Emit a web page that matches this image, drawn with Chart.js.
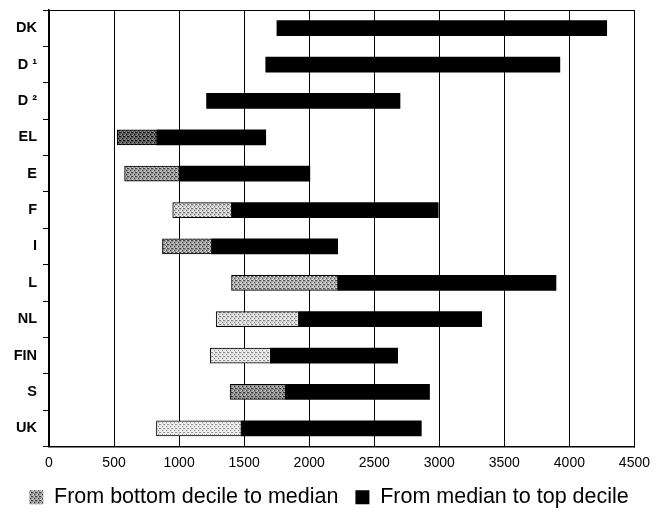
<!DOCTYPE html>
<html>
<head>
<meta charset="utf-8">
<script src="https://cdn.jsdelivr.net/npm/chart.js@4/dist/chart.umd.min.js"></script>
<style>
html,body{margin:0;padding:0;background:#fff;}
#wrap{width:658px;height:521px;position:relative;}
</style>
</head>
<body>
<div id="wrap"><canvas id="c"></canvas></div>
<script>
// Data
const categories = ['DK', 'D ¹', 'D ²', 'EL', 'E', 'F', 'I', 'L', 'NL', 'FIN', 'S', 'UK'];
const bottomDecile = [1752, 1666, 1211, 525, 581, 951, 872, 1403, 1285, 1239, 1392, 826];
const median       = [null, null, null, 832, 1002, 1405, 1252, 2221, 1920, 1704, 1818, 1479];
const topDecile    = [4287, 3927, 2698, 1666, 2005, 2992, 2219, 3897, 3326, 2680, 2925, 2862];
const xTicks = [0, 500, 1000, 1500, 2000, 2500, 3000, 3500, 4000, 4500];
const seriesNames = ['From bottom decile to median', 'From median to top decile'];

// Styles
const shades = [null, null, null, 90, 150, 200, 155, 170, 215, 225, 140, 232];

function makePattern(g) {
  const c = document.createElement('canvas');
  c.width = 4; c.height = 4;
  const x = c.getContext('2d');
  x.fillStyle = `rgb(${g},${g},${g})`;
  x.fillRect(0, 0, 4, 4);
  const d = Math.max(0, g - 90), l = Math.min(255, g + 60);
  x.fillStyle = `rgb(${d},${d},${d})`;
  x.fillRect(0, 0, 1, 1); x.fillRect(2, 2, 1, 1); x.fillRect(3, 0, 1, 1);
  x.fillStyle = `rgb(${l},${l},${l})`;
  x.fillRect(1, 2, 1, 1); x.fillRect(2, 0, 1, 1); x.fillRect(0, 3, 1, 1);
  return x.createPattern(c, 'repeat');
}

const lowData = categories.map((_, i) => median[i] == null ? null : [bottomDecile[i], median[i]]);
const highData = categories.map((_, i) => [median[i] == null ? bottomDecile[i] : median[i], topDecile[i]]);
const lowColors = shades.map(s => s == null ? '#fff' : makePattern(s));
const legendPattern = makePattern(150);

const frame = {
  id: 'frame',
  afterDraw(chart) {
    const {ctx, chartArea: a} = chart;
    ctx.save();
    ctx.strokeStyle = '#000';
    ctx.lineWidth = 1;
    ctx.beginPath();
    ctx.moveTo(Math.round(a.left) + 0.5, Math.round(a.top) + 0.5);
    ctx.lineTo(Math.round(a.right) + 0.5, Math.round(a.top) + 0.5);
    ctx.lineTo(Math.round(a.right) + 0.5, Math.round(a.bottom) + 0.5);
    ctx.stroke();
    ctx.restore();
  }
};

const FONT = 'Liberation Sans, Arial, sans-serif';

new Chart(document.getElementById('c'), {
  type: 'bar',
  data: {
    labels: categories,
    datasets: [
      {
        label: seriesNames[0],
        data: lowData,
        backgroundColor: lowColors,
        borderColor: '#000',
        borderWidth: 1,
        borderSkipped: false,
        barThickness: 15,
        grouped: false,
        order: 0
      },
      {
        label: seriesNames[1],
        data: highData,
        backgroundColor: '#000',
        borderColor: '#000',
        borderWidth: 0,
        barThickness: 15,
        grouped: false,
        order: 1
      }
    ]
  },
  options: {
    indexAxis: 'y',
    responsive: true,
    maintainAspectRatio: false,
    animation: false,
    layout: { padding: { top: 10, right: 0, left: 0, bottom: 3 } },
    plugins: {
      tooltip: { enabled: false },
      legend: {
        position: 'bottom',
        labels: {
          color: '#000',
          font: { family: FONT, size: 21.5 },
          boxWidth: 14,
          boxHeight: 14,
          padding: 17,
          generateLabels(chart) {
            return seriesNames.map((n, i) => ({
              text: n,
              fillStyle: i === 0 ? legendPattern : '#000',
              strokeStyle: '#000',
              lineWidth: 0,
              datasetIndex: i,
              fontColor: '#000'
            }));
          }
        }
      }
    },
    scales: {
      x: {
        type: 'linear',
        min: 0,
        max: 4500,
        afterBuildTicks(scale) { scale.ticks = xTicks.map(v => ({ value: v })); },
        ticks: {
          color: '#000',
          font: { family: FONT, size: 14 },
          padding: 8,
          maxRotation: 0,
          callback: v => String(v)
        },
        grid: { color: '#000', lineWidth: 1, drawTicks: false },
        border: { color: '#000', width: 1.5 },
        afterFit(scale) { scale.height = 23; }
      },
      y: {
        ticks: {
          color: '#000',
          font: { family: FONT, size: 14.5, weight: 'bold' },
          padding: 6
        },
        grid: { drawOnChartArea: false, offset: true, color: '#000', tickLength: 6 },
        border: { color: '#000', width: 1.5 },
        afterFit(scale) { scale.width = 49; scale.paddingTop = 0; scale.paddingBottom = 0; }
      },
      yRightSpace: {
        type: 'linear',
        position: 'right',
        ticks: { display: false },
        grid: { display: false },
        border: { display: false },
        afterFit(scale) { scale.width = 21; scale.paddingTop = 0; scale.paddingBottom = 0; }
      }
    }
  },
  plugins: [frame]
});
</script>
</body>
</html>
